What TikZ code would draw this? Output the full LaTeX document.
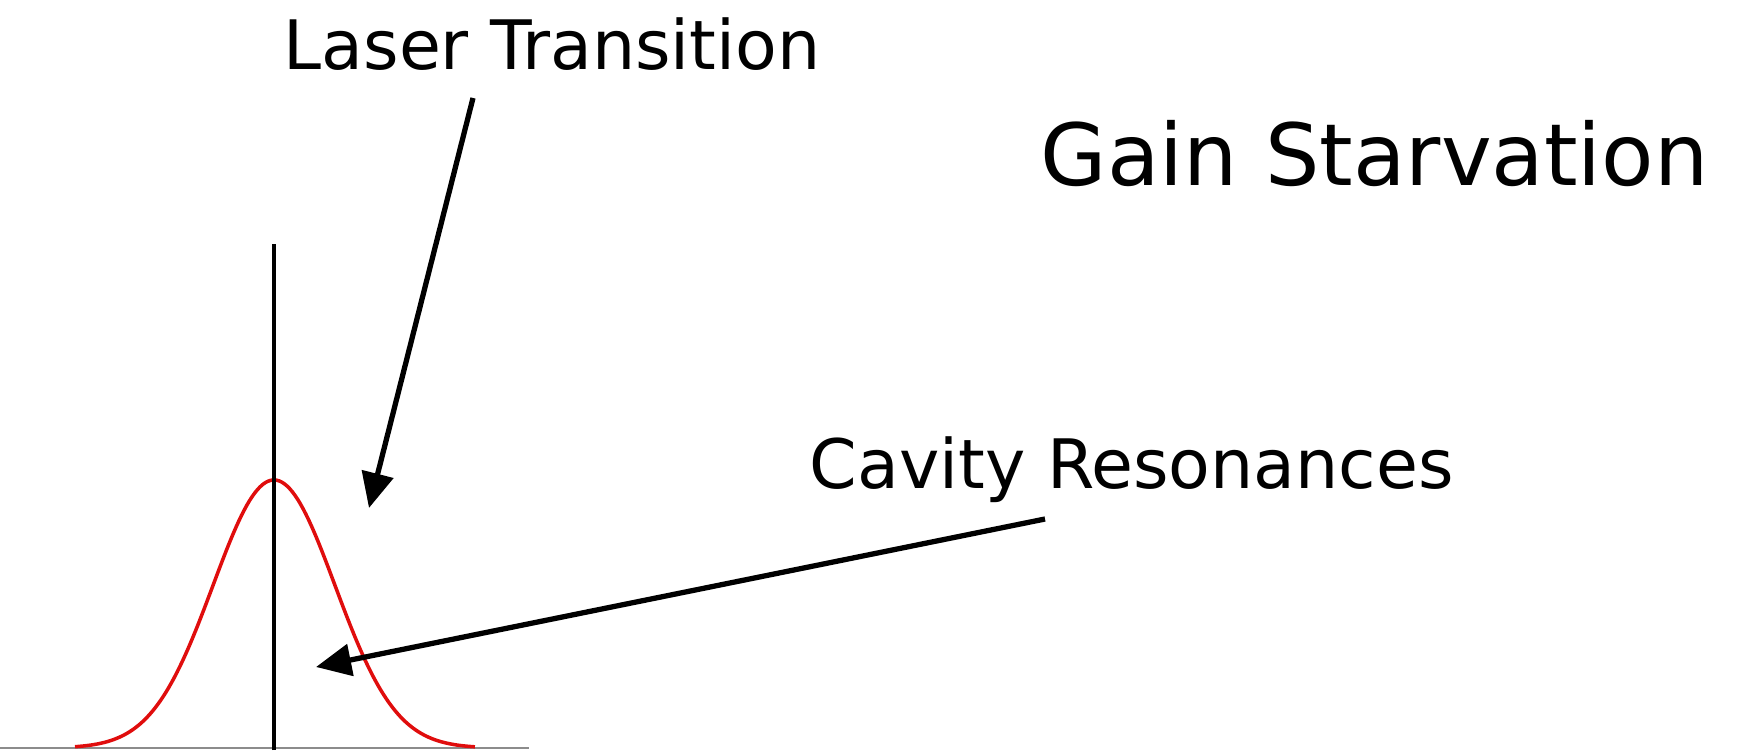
\documentclass[tikz,border=0pt]{standalone}
\usepackage{fontspec}
\setmainfont{DejaVu Sans}
\usetikzlibrary{arrows.meta,calc}
\definecolor{GainClr}{rgb}{0.88,0.05,0.05}
\definecolor{AxisClr}{gray}{0.55}
\tikzset{
  caption/.style={anchor=base west,inner sep=0pt},
  pointer/.style={-{Triangle[length=10pt,width=9pt]},line width=1.5pt},
}
\newcommand{\LineSize}{\fontsize{19.4}{23}\selectfont}
\newcommand{\TitleSize}{\fontsize{24.4}{29}\selectfont}

\begin{document}
\begin{tikzpicture}
\useasboundingbox (0,0) rectangle (17.38,7.5);
% axis and gain profile
\coordinate (axisL) at (0,0.02);
\coordinate (axisR) at (5.29,0.02);
\draw[AxisClr,line width=0.6pt] (axisL) -- (axisR);
\draw[GainClr,line width=1pt,domain=0.75:4.75,samples=150]
  plot (\x,{0.02+2.68*exp(-((\x-2.74)^2)/(2*0.61^2))});
\coordinate (modeFoot) at (2.74,0);
\coordinate (modeTop) at (2.74,5.06);
\draw[line width=1.4pt] (modeFoot) -- (modeTop);
% labels
\node[caption,font=\LineSize] (laser) at (2.83,6.80) {Laser Transition};
\node[caption,font=\TitleSize] (title) at (10.40,5.64) {Gain Starvation};
\node[caption,font=\LineSize] (cavity) at (8.09,2.62) {Cavity Resonances};
% pointers
\coordinate (laserFrom) at (4.73,6.52);
\coordinate (laserTo) at (3.69,2.42);
\coordinate (cavityFrom) at (10.45,2.31);
\coordinate (cavityTo) at (3.16,0.83);
\draw[pointer] (laserFrom) -- (laserTo);
\draw[pointer] (cavityFrom) -- (cavityTo);
\end{tikzpicture}
\end{document}
